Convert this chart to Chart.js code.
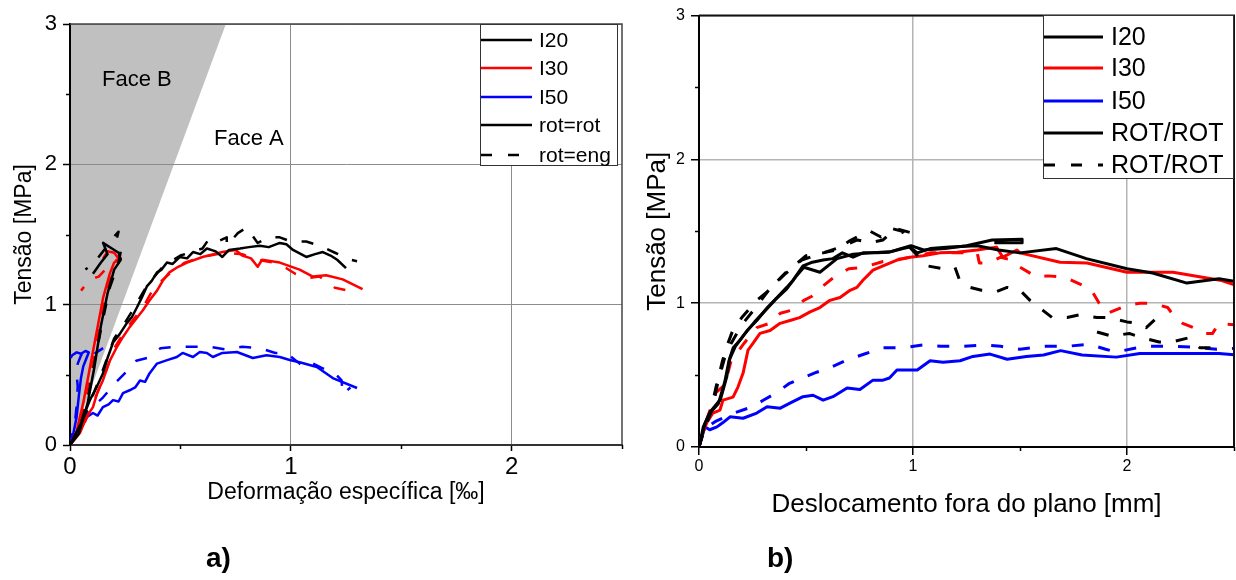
<!DOCTYPE html>
<html lang="pt">
<head>
<meta charset="UTF-8">
<title>Tensão x deformação / deslocamento</title>
<script src="https://cdn.jsdelivr.net/npm/chart.js"></script>
<style>
  html, body { margin: 0; padding: 0; background: #fff; }
  body { width: 1236px; height: 580px; position: relative; overflow: hidden;
         font-family: Arial, "Liberation Sans", Helvetica, sans-serif; }
  .panel { position: absolute; top: 0; height: 580px; }
  #panelA { left: 0; width: 630px; }
  #panelB { left: 630px; width: 606px; }
  .tag { position: absolute; font-weight: bold; font-size: 28px; line-height: 28px; color: #000; }
</style>
</head>
<body>
<div class="panel" id="panelA"><canvas id="chartA"></canvas></div>
<div class="panel" id="panelB"><canvas id="chartB"></canvas></div>
<div class="tag" style="left:206px; top:544px">a)</div>
<div class="tag" style="left:767px; top:544px">b)</div>

<script>
// ---- a) tensão x deformação específica [‰] -> [MPa], pairs [x, y]
const strainI20RotFaceA = [[0,0],[0.045,0.14],[0.09,0.32],[0.12,0.41],[0.149,0.51],[0.17,0.62],[0.195,0.73],[0.225,0.79],[0.258,0.87],[0.28,0.91],[0.303,0.98],[0.325,1.05],[0.348,1.13],[0.37,1.17],[0.394,1.23],[0.415,1.25],[0.439,1.30],[0.465,1.29],[0.498,1.34],[0.53,1.33],[0.557,1.375],[0.59,1.36],[0.62,1.40],[0.66,1.38],[0.69,1.34],[0.72,1.39],[0.77,1.40],[0.81,1.41],[0.86,1.42],[0.9,1.41],[0.95,1.44],[0.98,1.43],[1.01,1.39],[1.07,1.34],[1.11,1.36],[1.145,1.375],[1.18,1.35],[1.21,1.32],[1.25,1.26]];
const strainI20EngFaceA = [[0,0],[0.05,0.15],[0.1,0.34],[0.15,0.54],[0.2,0.76],[0.24,0.85],[0.28,0.95],[0.35,1.14],[0.42,1.27],[0.5,1.35],[0.6,1.40],[0.63,1.47],[0.67,1.45],[0.71,1.48],[0.71,1.42],[0.76,1.51],[0.8,1.55],[0.85,1.44],[0.9,1.48],[0.95,1.48],[1.0,1.45],[1.07,1.45],[1.13,1.42],[1.2,1.37],[1.27,1.32],[1.3,1.31]];
const strainI30RotFaceA = [[0,0],[0.045,0.085],[0.075,0.2],[0.104,0.27],[0.125,0.38],[0.149,0.46],[0.18,0.6],[0.213,0.70],[0.24,0.77],[0.27,0.84],[0.3,0.9],[0.33,0.96],[0.36,1.03],[0.394,1.10],[0.42,1.17],[0.45,1.23],[0.49,1.27],[0.53,1.30],[0.6,1.34],[0.69,1.375],[0.75,1.39],[0.78,1.35],[0.82,1.33],[0.85,1.27],[0.87,1.32],[0.95,1.30],[1.04,1.25],[1.1,1.20],[1.16,1.21],[1.235,1.18],[1.325,1.11]];
const strainI30EngFaceA = [[0,0],[0.05,0.1],[0.1,0.28],[0.15,0.47],[0.2,0.69],[0.26,0.84],[0.33,0.98],[0.38,1.12],[0.45,1.22],[0.52,1.30],[0.6,1.34],[0.7,1.37],[0.78,1.36],[0.85,1.32],[0.92,1.30],[0.98,1.26],[1.02,1.22],[1.08,1.19],[1.13,1.20],[1.18,1.15],[1.2,1.12],[1.26,1.1]];
const strainI50RotFaceA = [[0,0],[0.014,0.04],[0.045,0.107],[0.077,0.2],[0.104,0.228],[0.125,0.21],[0.149,0.27],[0.175,0.29],[0.195,0.32],[0.22,0.31],[0.24,0.37],[0.27,0.39],[0.295,0.41],[0.317,0.46],[0.34,0.45],[0.36,0.51],[0.394,0.58],[0.44,0.605],[0.484,0.627],[0.51,0.656],[0.557,0.627],[0.588,0.663],[0.62,0.656],[0.647,0.627],[0.69,0.656],[0.756,0.663],[0.828,0.62],[0.89,0.64],[0.95,0.627],[0.995,0.606],[1.04,0.59],[1.118,0.556],[1.19,0.477],[1.30,0.406]];
const strainI50EngFaceA = [[0,0],[0.014,0.1],[0.077,0.23],[0.15,0.34],[0.21,0.45],[0.26,0.53],[0.3,0.6],[0.35,0.62],[0.41,0.69],[0.48,0.70],[0.56,0.70],[0.63,0.70],[0.71,0.68],[0.78,0.70],[0.86,0.69],[0.93,0.656],[0.98,0.656],[1.04,0.58],[1.07,0.55],[1.1,0.58],[1.14,0.55],[1.2,0.51],[1.23,0.46],[1.235,0.36],[1.27,0.41]];
const strainI20RotFaceB = [[0,0],[0.04,0.08],[0.08,0.3],[0.11,0.55],[0.14,0.85],[0.17,1.08],[0.2,1.25],[0.23,1.32],[0.22,1.37],[0.19,1.40],[0.16,1.43],[0.15,1.44],[0.17,1.36],[0.14,1.30],[0.104,1.22]];
const strainI20EngFaceB = [[0,0],[0.04,0.1],[0.08,0.32],[0.11,0.58],[0.15,0.9],[0.18,1.12],[0.22,1.3],[0.23,1.38],[0.21,1.46],[0.22,1.52],[0.19,1.47],[0.17,1.42],[0.14,1.36],[0.11,1.30],[0.07,1.25]];
const strainI30RotFaceB = [[0,0],[0.03,0.1],[0.06,0.3],[0.09,0.55],[0.12,0.8],[0.15,1.05],[0.18,1.22],[0.2,1.3],[0.22,1.33],[0.2,1.37],[0.17,1.38],[0.15,1.33]];
const strainI30EngFaceB = [[0,0],[0.035,0.1],[0.07,0.3],[0.1,0.55],[0.13,0.8],[0.16,1.05],[0.19,1.22],[0.21,1.3],[0.23,1.33],[0.19,1.3],[0.13,1.2],[0.09,1.18],[0.05,1.1]];
const strainI50RotFaceB = [[0,0],[0.015,0.08],[0.03,0.2],[0.04,0.35],[0.05,0.48],[0.06,0.56],[0.075,0.62],[0.085,0.66],[0.07,0.67],[0.05,0.65],[0.03,0.66],[0.01,0.64],[0.003,0.62]];
const strainI50EngFaceB = [[0,0],[0.02,0.12],[0.03,0.28],[0.035,0.42],[0.03,0.5],[0.035,0.58],[0.05,0.64],[0.07,0.67],[0.1,0.64],[0.12,0.66],[0.15,0.69]];
// limit of the Face B region (from origin to the top of the axis)
const faceBEdge = [[0,0],[0.706,3]];

// ---- b) tensão x deslocamento fora do plano [mm] -> [MPa]
const dispI20Rot1 = [[0,0],[0.005,0.03],[0.02,0.14],[0.05,0.24],[0.1,0.33],[0.13,0.49],[0.145,0.625],[0.16,0.69],[0.19,0.74],[0.225,0.81],[0.27,0.88],[0.32,0.97],[0.365,1.04],[0.41,1.11],[0.44,1.16],[0.486,1.26],[0.53,1.285],[0.58,1.30],[0.626,1.31],[0.67,1.35],[0.72,1.32],[0.766,1.35],[0.83,1.35],[0.89,1.355],[0.953,1.38],[0.986,1.39],[1.02,1.35],[1.08,1.38],[1.17,1.39],[1.30,1.40],[1.4,1.37],[1.5,1.35],[1.67,1.38],[1.81,1.31],[2.0,1.24],[2.12,1.21],[2.28,1.14],[2.43,1.17],[2.51,1.15]];
const dispI20Rot2 = [[0,0],[0.01,0.06],[0.03,0.17],[0.06,0.25],[0.09,0.3],[0.12,0.45],[0.14,0.6],[0.17,0.7],[0.21,0.78],[0.26,0.87],[0.31,0.95],[0.36,1.03],[0.41,1.1],[0.45,1.18],[0.49,1.25],[0.565,1.215],[0.645,1.31],[0.72,1.34],[0.8,1.35],[0.9,1.36],[0.99,1.40],[1.05,1.37],[1.15,1.38],[1.25,1.40],[1.37,1.44],[1.51,1.445],[1.51,1.42],[1.38,1.42]];
const dispI20Eng1 = [[0,0],[0.02,0.1],[0.05,0.22],[0.08,0.42],[0.11,0.6],[0.13,0.7],[0.16,0.82],[0.2,0.9],[0.27,1.02],[0.32,1.08],[0.37,1.16],[0.41,1.22],[0.46,1.28],[0.5,1.33],[0.58,1.35],[0.645,1.37],[0.7,1.43],[0.75,1.47],[0.8,1.5],[0.85,1.46],[0.9,1.52],[0.95,1.5],[0.99,1.38],[1.065,1.26],[1.14,1.24],[1.196,1.25],[1.22,1.15],[1.266,1.11],[1.32,1.09],[1.39,1.08],[1.44,1.11],[1.5,1.09],[1.547,1.02],[1.607,0.95],[1.65,0.90],[1.72,0.90],[1.78,0.92],[1.86,0.90],[1.91,0.90],[2.0,0.87],[2.05,0.86],[2.09,0.83],[2.14,0.90]];
const dispI20Eng2 = [[0,0],[0.02,0.12],[0.06,0.26],[0.09,0.46],[0.12,0.62],[0.15,0.72],[0.2,0.85],[0.26,0.96],[0.33,1.1],[0.4,1.2],[0.48,1.3],[0.56,1.34],[0.66,1.39],[0.74,1.44],[0.8,1.42],[0.86,1.44],[0.92,1.52],[0.99,1.49],[1.03,1.46]];
const dispI20Eng2Tail = [[1.86,0.80],[1.93,0.77],[2.01,0.79],[2.07,0.76],[2.15,0.73],[2.21,0.73],[2.29,0.76],[2.34,0.69],[2.45,0.69]];
const dispI30Rot = [[0,0],[0.005,0.05],[0.037,0.17],[0.065,0.236],[0.098,0.257],[0.112,0.326],[0.159,0.347],[0.182,0.417],[0.206,0.514],[0.229,0.674],[0.252,0.72],[0.285,0.79],[0.332,0.81],[0.379,0.86],[0.425,0.88],[0.47,0.90],[0.519,0.94],[0.565,0.97],[0.612,1.02],[0.659,1.04],[0.706,1.09],[0.738,1.11],[0.766,1.16],[0.813,1.23],[0.86,1.26],[0.925,1.30],[0.986,1.32],[1.047,1.33],[1.126,1.35],[1.206,1.355],[1.30,1.37],[1.39,1.39],[1.42,1.32],[1.486,1.37],[1.5,1.35],[1.687,1.285],[1.813,1.28],[2.0,1.215],[2.215,1.215],[2.435,1.16],[2.51,1.125]];
const dispI30Eng = [[0,0],[0.02,0.12],[0.05,0.25],[0.08,0.38],[0.12,0.43],[0.15,0.6],[0.21,0.72],[0.27,0.83],[0.33,0.86],[0.38,0.93],[0.43,0.95],[0.49,1.02],[0.53,1.05],[0.58,1.12],[0.63,1.18],[0.7,1.24],[0.77,1.25],[0.86,1.29],[0.95,1.31],[1.02,1.33],[1.08,1.35],[1.15,1.35],[1.22,1.35],[1.3,1.35],[1.31,1.28],[1.35,1.28],[1.41,1.32],[1.46,1.30],[1.5,1.25],[1.58,1.18],[1.63,1.19],[1.71,1.18],[1.77,1.14],[1.83,1.10],[1.87,1.0],[1.91,0.93],[2.0,0.986],[2.06,1.0],[2.12,1.0],[2.19,0.97],[2.215,0.92],[2.26,0.86],[2.31,0.83],[2.355,0.79],[2.40,0.79],[2.43,0.86],[2.5,0.85]];
const dispI50Rot = [[0,0],[0.005,0.03],[0.028,0.14],[0.05,0.12],[0.084,0.14],[0.112,0.17],[0.145,0.21],[0.206,0.2],[0.27,0.236],[0.318,0.28],[0.38,0.27],[0.425,0.305],[0.486,0.35],[0.533,0.36],[0.58,0.326],[0.626,0.35],[0.692,0.41],[0.752,0.40],[0.813,0.465],[0.86,0.465],[0.89,0.48],[0.925,0.535],[1.02,0.535],[1.08,0.60],[1.14,0.59],[1.22,0.6],[1.28,0.63],[1.36,0.646],[1.44,0.61],[1.53,0.63],[1.61,0.64],[1.69,0.67],[1.79,0.64],[1.95,0.625],[2.06,0.65],[2.215,0.65],[2.43,0.65],[2.51,0.64]];
const dispI50Eng = [[0,0],[0.02,0.1],[0.05,0.15],[0.08,0.18],[0.11,0.2],[0.17,0.24],[0.25,0.28],[0.3,0.325],[0.36,0.375],[0.42,0.44],[0.5,0.49],[0.55,0.52],[0.61,0.55],[0.7,0.61],[0.78,0.65],[0.86,0.69],[0.95,0.69],[1.05,0.71],[1.13,0.70],[1.23,0.70],[1.33,0.71],[1.41,0.70],[1.5,0.68],[1.62,0.70],[1.72,0.70],[1.82,0.715],[1.9,0.68],[1.95,0.66],[2.03,0.685],[2.1,0.70],[2.2,0.70],[2.3,0.695],[2.42,0.68],[2.5,0.685]];

// axes and annotations
const majorTicks = [0, 1, 2, 3];
const minorTicks = [0.5, 1.5, 2.5];
const legendLabelsA = ['I20', 'I30', 'I50', 'rot=rot', 'rot=eng'];
const legendLabelsB = ['I20', 'I30', 'I50', 'ROT/ROT', 'ROT/ROT'];
const faceLabels = ['Face B', 'Face A'];

const FONT = 'Arial, "Liberation Sans", Helvetica, sans-serif';
const BLACK = '#000000', RED = '#ff0000', BLUE = '#0000ff';
const DASH = [12, 15];
const legendStyles = [
  { color: BLACK, dash: [] }, { color: RED, dash: [] }, { color: BLUE, dash: [] },
  { color: BLACK, dash: [] }, { color: BLACK, dash: [11, 16] }
];

const pts = arr => arr.map(([x, y]) => ({ x, y }));
const curve = (arr, color, dashed, width) => ({
  data: pts(arr), borderColor: color, borderWidth: width,
  borderDash: dashed ? DASH : [], fill: false, pointRadius: 0,
  borderJoinStyle: 'round', order: 0
});

// frame, minor ticks, text notes and boxed legend
const panelExtras = {
  id: 'panelExtras',
  afterDraw(chart, args, o) {
    const { ctx, chartArea: a, scales: { x, y } } = chart;
    ctx.save();
    ctx.setLineDash([]);
    ctx.strokeStyle = o.frameColor;
    ctx.lineWidth = o.frameWidth;
    ctx.beginPath();
    ctx.moveTo(a.left, a.top); ctx.lineTo(a.right, a.top); ctx.lineTo(a.right, a.bottom);
    ctx.stroke();

    ctx.strokeStyle = '#000';
    ctx.lineWidth = o.tickWidth;
    minorTicks.forEach(v => {
      const px = Math.round(x.getPixelForValue(v)) + 0.5;
      ctx.beginPath(); ctx.moveTo(px, a.bottom); ctx.lineTo(px, a.bottom + o.minorLen); ctx.stroke();
      const py = Math.round(y.getPixelForValue(v)) + 0.5;
      ctx.beginPath(); ctx.moveTo(a.left, py); ctx.lineTo(a.left - o.minorLen, py); ctx.stroke();
    });

    ctx.fillStyle = '#000';
    ctx.textAlign = 'center';
    ctx.textBaseline = 'middle';
    (o.notes || []).forEach(n => {
      ctx.font = `${n.size}px ${FONT}`;
      ctx.fillText(n.text, x.getPixelForValue(n.x), y.getPixelForValue(n.y));
    });

    const L = o.legend;
    ctx.fillStyle = '#fff';
    ctx.fillRect(L.box[0], L.box[1], L.box[2] - L.box[0], L.box[3] - L.box[1]);
    ctx.strokeStyle = '#333';
    ctx.lineWidth = 1;
    ctx.strokeRect(L.box[0] + 0.5, L.box[1] + 0.5, L.box[2] - L.box[0] - 1, L.box[3] - L.box[1] - 1);
    ctx.font = `${L.size}px ${FONT}`;
    ctx.textAlign = 'left';
    L.labels.forEach((label, i) => {
      const st = legendStyles[i], ry = L.rows[i];
      ctx.strokeStyle = st.color;
      ctx.lineWidth = L.lineWidth;
      ctx.setLineDash(st.dash);
      ctx.beginPath(); ctx.moveTo(L.lineFrom, ry); ctx.lineTo(L.lineTo, ry); ctx.stroke();
      ctx.setLineDash([]);
      ctx.fillStyle = '#000';
      ctx.fillText(label, L.textX, ry + 1);
    });
    ctx.restore();
  }
};

function scaleX(cfg) {
  return {
    type: 'linear', min: 0, max: 2.5,
    afterFit(s) { s.height = cfg.height; },
    ticks: { stepSize: 1, includeBounds: false, padding: cfg.pad, color: '#000',
             font: { size: cfg.tickSize, family: FONT } },
    grid: { color: c => (c.tick && c.tick.value > 0 ? cfg.gridColor : 'rgba(0,0,0,0)'),
            lineWidth: cfg.gridWidth, tickColor: '#000', tickLength: cfg.tickLen, tickWidth: 1.5 },
    border: { color: cfg.axisColor, width: 2 },
    title: { display: true, text: cfg.title, color: '#000',
             font: { size: cfg.titleSize, family: FONT }, padding: { top: 0, bottom: cfg.titlePad } }
  };
}
function scaleY(cfg) {
  return {
    type: 'linear', min: 0, max: 3,
    afterFit(s) { s.width = cfg.width; },
    afterBuildTicks(s) { s.ticks = majorTicks.map(v => ({ value: v })); },
    ticks: { padding: cfg.pad, color: '#000', font: { size: cfg.tickSize, family: FONT } },
    grid: { color: c => (c.tick && c.tick.value > 0 ? cfg.gridColor : 'rgba(0,0,0,0)'),
            lineWidth: cfg.gridWidth, tickColor: '#000', tickLength: cfg.tickLen, tickWidth: 1.5 },
    border: { color: '#000', width: 2 },
    title: { display: true, text: 'Tensão [MPa]', color: '#000',
             font: { size: cfg.titleSize, family: FONT }, padding: { top: cfg.titlePad, bottom: 0 } }
  };
}

const WA = 2.5;
new Chart(document.getElementById('chartA'), {
  type: 'line',
  data: {
    datasets: [
      { data: pts(faceBEdge), borderColor: 'rgba(0,0,0,0)', borderWidth: 0,
        backgroundColor: '#c0c0c0', fill: 'end', pointRadius: 0, order: 10 },
      curve(strainI20RotFaceA, BLACK, false, WA),
      curve(strainI20EngFaceA, BLACK, true, WA),
      curve(strainI20RotFaceB, BLACK, false, WA),
      curve(strainI20EngFaceB, BLACK, true, WA),
      curve(strainI30RotFaceA, RED, false, WA),
      curve(strainI30EngFaceA, RED, true, WA),
      curve(strainI30RotFaceB, RED, false, WA),
      curve(strainI30EngFaceB, RED, true, WA),
      curve(strainI50RotFaceA, BLUE, false, WA),
      curve(strainI50EngFaceA, BLUE, true, WA),
      curve(strainI50RotFaceB, BLUE, false, WA),
      curve(strainI50EngFaceB, BLUE, true, WA)
    ]
  },
  options: {
    responsive: true, maintainAspectRatio: false, animation: false,
    layout: { padding: { top: 24, right: 8, left: 0, bottom: 0 } },
    elements: { line: { tension: 0 } },
    plugins: {
      legend: { display: false }, tooltip: { enabled: false },
      filler: { drawTime: 'beforeDraw' },
      panelExtras: {
        frameColor: '#444', frameWidth: 1.5, tickWidth: 1.5, minorLen: 4,
        notes: [
          { text: faceLabels[0], x: 0.303, y: 2.6, size: 22 },
          { text: faceLabels[1], x: 0.81, y: 2.18, size: 22 }
        ],
        legend: { box: [480, 24, 618, 166], rows: [40, 68, 97, 125, 155], lineFrom: 481, lineTo: 532,
                  textX: 539, size: 21, lineWidth: 2.5, labels: legendLabelsA }
      }
    },
    scales: {
      x: scaleX({ height: 135, pad: 2, tickSize: 24, tickLen: 6, gridColor: '#8c8c8c', gridWidth: 1,
                  axisColor: '#333', title: 'Deformação específica [‰]', titleSize: 23, titlePad: 74 }),
      y: scaleY({ width: 70, pad: 6, tickSize: 22, tickLen: 7, gridColor: '#8c8c8c', gridWidth: 1,
                  titleSize: 23, titlePad: 11 })
    }
  },
  plugins: [panelExtras]
});

const WB = 3;
new Chart(document.getElementById('chartB'), {
  type: 'line',
  data: {
    datasets: [
      curve(dispI20Rot1, BLACK, false, WB),
      curve(dispI20Rot2, BLACK, false, WB),
      curve(dispI20Eng1, BLACK, true, WB),
      curve(dispI20Eng2, BLACK, true, WB),
      curve(dispI20Eng2Tail, BLACK, true, WB),
      curve(dispI30Rot, RED, false, WB),
      curve(dispI30Eng, RED, true, WB),
      curve(dispI50Rot, BLUE, false, WB),
      curve(dispI50Eng, BLUE, true, WB)
    ]
  },
  options: {
    responsive: true, maintainAspectRatio: false, animation: false,
    layout: { padding: { top: 15, right: 2, left: 0, bottom: 0 } },
    elements: { line: { tension: 0 } },
    plugins: {
      legend: { display: false }, tooltip: { enabled: false },
      panelExtras: {
        frameColor: '#111', frameWidth: 2, tickWidth: 1.5, minorLen: 4,
        notes: [],
        legend: { box: [413, 15, 604, 179], rows: [37, 68, 101, 133, 165], lineFrom: 414, lineTo: 473,
                  textX: 481, size: 25, lineWidth: 3, labels: legendLabelsB }
      }
    },
    scales: {
      x: scaleX({ height: 133, pad: 2, tickSize: 16, tickLen: 8, gridColor: '#b4b4b4', gridWidth: 1.5,
                  axisColor: '#000', title: 'Deslocamento fora do plano [mm]', titleSize: 26, titlePad: 60 }),
      y: scaleY({ width: 69, pad: 6, tickSize: 16, tickLen: 8, gridColor: '#b4b4b4', gridWidth: 1.5,
                  titleSize: 26, titlePad: 12 })
    }
  },
  plugins: [panelExtras]
});
</script>
</body>
</html>
